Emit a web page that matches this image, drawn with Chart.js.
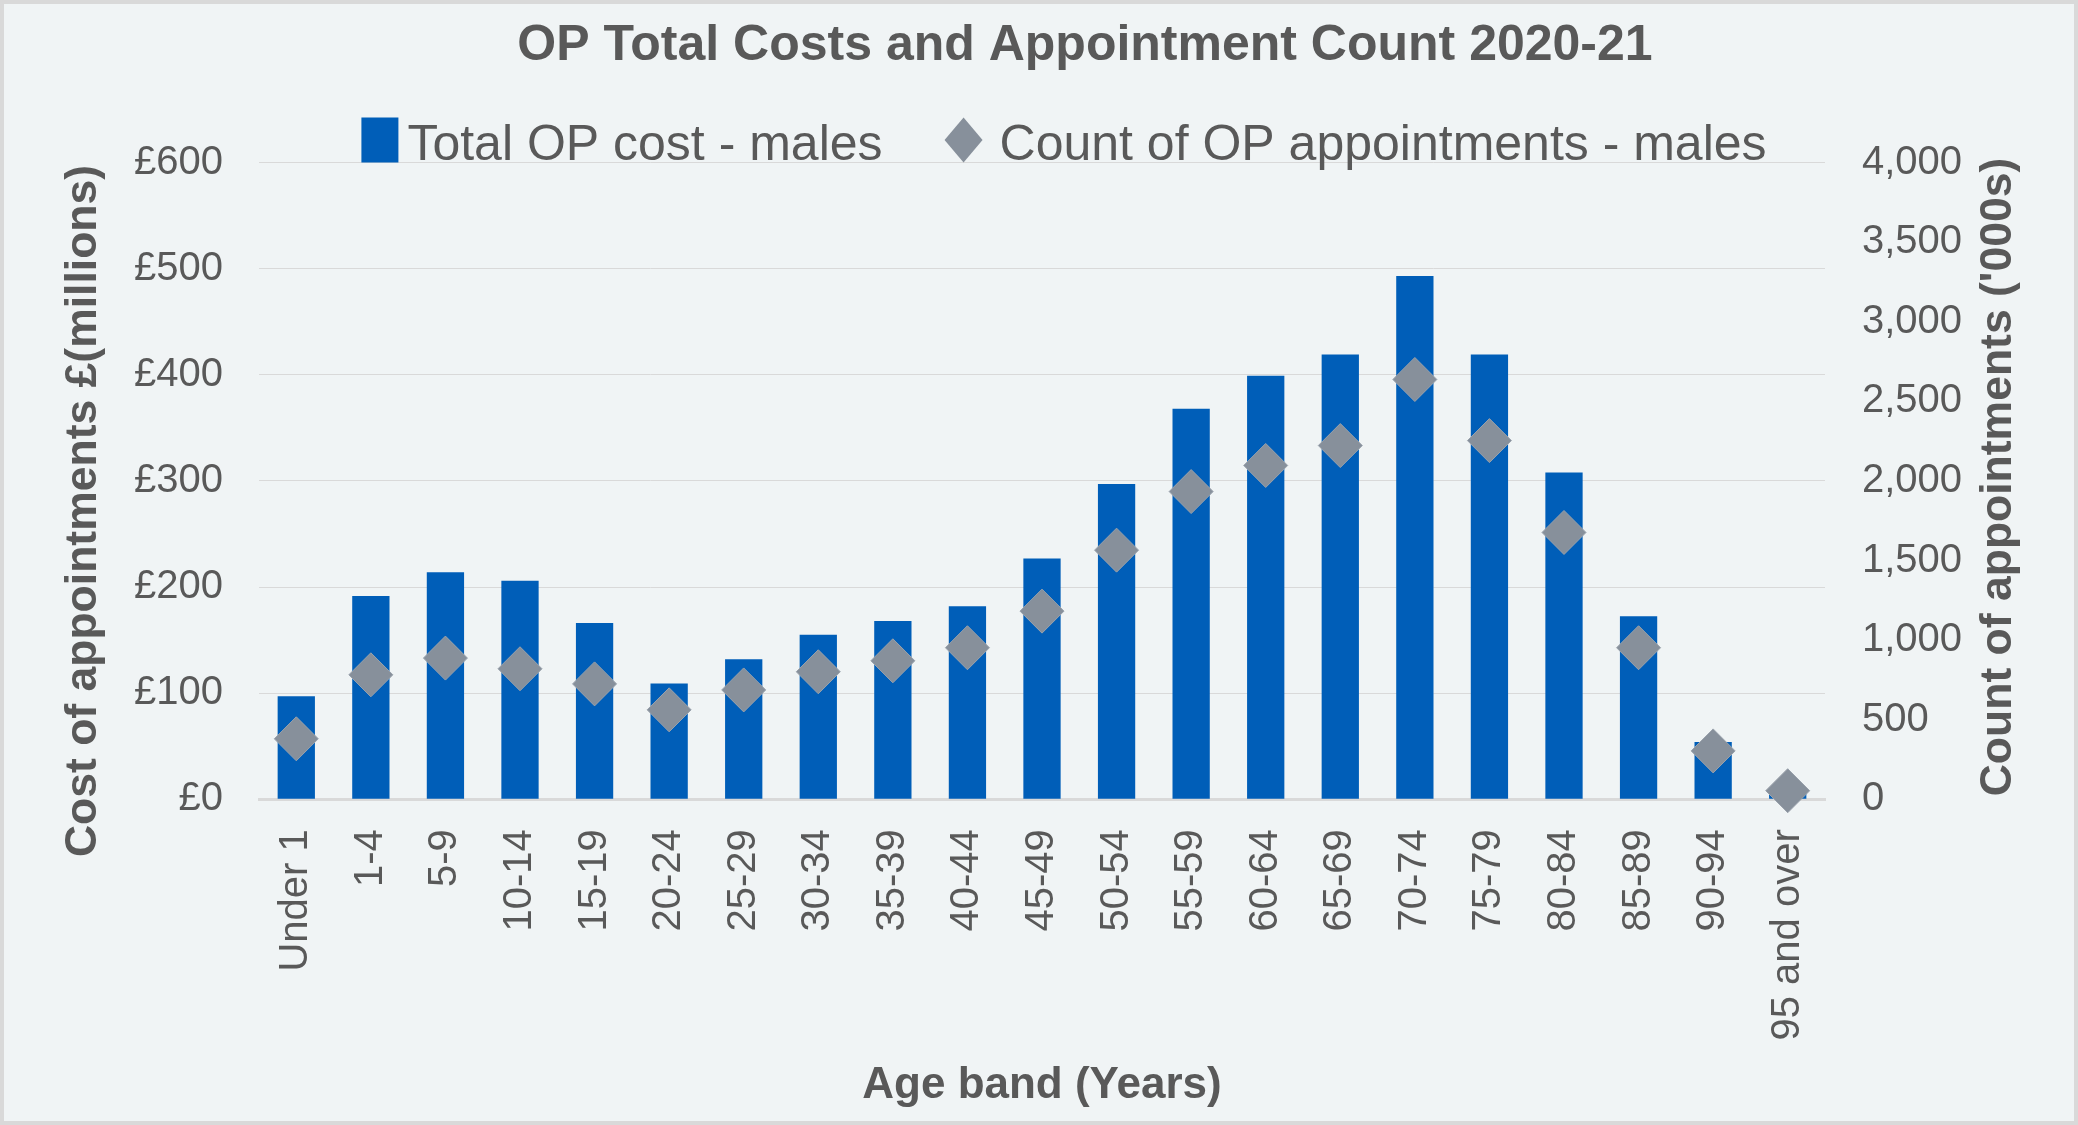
<!DOCTYPE html>
<html>
<head>
<meta charset="utf-8">
<title>OP Total Costs and Appointment Count 2020-21</title>
<script src="https://cdn.jsdelivr.net/npm/chart.js@4.4.1/dist/chart.umd.min.js"></script>
<style>
  html, body { margin: 0; padding: 0; background: #F0F4F5; overflow: hidden; }
  canvas { display: block; }
</style>
</head>
<body>
<canvas id="grafico" width="2078" height="1125"></canvas>
<script>
// DADOS
const faixasEtarias = ['Under 1', '1-4', '5-9', '10-14', '15-19', '20-24', '25-29', '30-34', '35-39', '40-44',
  '45-49', '50-54', '55-59', '60-64', '65-69', '70-74', '75-79', '80-84', '85-89', '90-94', '95 and over'];

// custo total (£ milhões)
const custos = [97, 191.5, 214, 206, 166, 109, 132, 155, 168, 182,
  227, 297, 368, 399, 419, 493, 419, 308, 172.5, 54, 6];

// número de consultas (milhares)
const consultas = [380, 782, 887, 820, 725, 562, 687, 801, 870, 952,
  1182, 1565, 1933, 2097, 2222, 2637, 2253, 1676, 952, 304, 54];

// marcas dos eixos
const ticksCusto = [0, 100, 200, 300, 400, 500, 600];
const ticksConsultas = [0, 500, 1000, 1500, 2000, 2500, 3000, 3500, 4000];

// textos
const tituloGrafico = 'OP Total Costs and Appointment Count 2020-21';
const rotuloCusto = 'Total OP cost - males';
const rotuloConsultas = 'Count of OP appointments - males';
const tituloEixoX = 'Age band (Years)';
const tituloEixoCusto = 'Cost of appointments £(millions)';
const tituloEixoConsultas = "Count of appointments ('000s)";

// estilo
const corFundo = '#F0F4F5';
const corMoldura = '#D9D9D9';
const corTexto = '#595959';
const corBarra = '#005EB8';
const corLosango = '#87909B';
const fonte = "'Liberation Sans', Arial, sans-serif";

Chart.defaults.font.family = fonte;
Chart.defaults.color = corTexto;

// desenha fundo, moldura, título, legenda e títulos dos eixos verticais
const decoracao = {
  id: 'decoracao',
  beforeDraw(chart) {
    const ctx = chart.ctx;
    ctx.save();
    ctx.fillStyle = corFundo;
    ctx.fillRect(0, 0, chart.width, chart.height);
    ctx.restore();
  },
  afterDraw(chart) {
    const ctx = chart.ctx;
    ctx.save();

    // moldura
    ctx.strokeStyle = corMoldura;
    ctx.lineWidth = 4;
    ctx.strokeRect(2, 2, chart.width - 4, chart.height - 4);

    // título
    ctx.fillStyle = corTexto;
    ctx.font = 'bold 50px ' + fonte;
    ctx.textAlign = 'center';
    ctx.textBaseline = 'alphabetic';
    ctx.fillText(tituloGrafico, 1085, 60);

    // legenda
    ctx.font = '50px ' + fonte;
    const larg1 = ctx.measureText(chart.data.datasets[0].label).width;
    const larg2 = ctx.measureText(chart.data.datasets[1].label).width;
    const total = 37 + 9 + larg1 + 62 + 38 + 17 + larg2;
    let x = 1064 - total / 2;
    const yMeio = 140;
    const base = 160;

    ctx.fillStyle = chart.data.datasets[0].backgroundColor;
    ctx.fillRect(x, yMeio - 22.5, 37, 45);
    x += 37 + 9;
    ctx.fillStyle = corTexto;
    ctx.textAlign = 'left';
    ctx.fillText(chart.data.datasets[0].label, x, base);
    x += larg1 + 62;

    ctx.fillStyle = chart.data.datasets[1].pointBackgroundColor;
    ctx.beginPath();
    ctx.moveTo(x, yMeio);
    ctx.lineTo(x + 19, yMeio - 22.5);
    ctx.lineTo(x + 38, yMeio);
    ctx.lineTo(x + 19, yMeio + 22.5);
    ctx.closePath();
    ctx.fill();
    x += 38 + 17;
    ctx.fillStyle = corTexto;
    ctx.fillText(chart.data.datasets[1].label, x, base);

    // títulos dos eixos verticais (ambos lidos de baixo para cima)
    ctx.font = 'bold 44.5px ' + fonte;
    ctx.textAlign = 'center';
    ctx.textBaseline = 'middle';
    ctx.translate(84, 511);
    ctx.rotate(-Math.PI / 2);
    ctx.fillText(tituloEixoCusto, 0, 0);
    ctx.setTransform(1, 0, 0, 1, 0, 0);
    ctx.translate(1999, 477);
    ctx.rotate(-Math.PI / 2);
    ctx.fillText(tituloEixoConsultas, 0, 0);

    ctx.restore();
  }
};

function criarGrafico(elementId) {
  const ctx = document.getElementById(elementId);

  new Chart(ctx, {
    data: {
      labels: faixasEtarias,
      datasets: [
        {
          type: 'bar',
          label: rotuloCusto,
          data: custos,
          yAxisID: 'y',
          backgroundColor: corBarra,
          borderWidth: 0,
          barPercentage: 0.5,
          categoryPercentage: 1,
          order: 2
        },
        {
          type: 'line',
          label: rotuloConsultas,
          data: consultas,
          yAxisID: 'y1',
          showLine: false,
          pointStyle: 'rectRot',
          pointRadius: 22,
          pointHoverRadius: 22,
          pointBackgroundColor: corLosango,
          pointBorderColor: '#9AA2AC',
          pointBorderWidth: 1,
          clip: false,
          order: 1
        }
      ]
    },
    options: {
      responsive: false,
      animation: false,
      events: [],
      layout: {
        padding: { top: 162.5, left: 0, right: 0, bottom: 0 }
      },
      plugins: {
        legend: { display: false },
        title: { display: false },
        tooltip: { enabled: false }
      },
      scales: {
        x: {
          grid: { display: false, drawTicks: false },
          border: { display: true, color: corMoldura, width: 3 },
          ticks: {
            minRotation: 90,
            maxRotation: 90,
            autoSkip: false,
            padding: 30,
            font: { size: 40 },
            color: corTexto
          },
          title: {
            display: true,
            text: tituloEixoX,
            font: { size: 44, weight: 'bold' },
            color: corTexto,
            padding: { top: 0, bottom: 13 }
          },
          afterFit: scale => { scale.height = 1125 - 799.3; }
        },
        y: {
          position: 'left',
          min: 0,
          max: 600,
          afterBuildTicks: scale => { scale.ticks = ticksCusto.map(v => ({ value: v })); },
          grid: { color: corMoldura, lineWidth: 1, drawTicks: false },
          border: { display: false },
          ticks: {
            padding: 36,
            font: { size: 40 },
            color: corTexto,
            callback: v => '£' + v
          },
          afterFit: scale => { scale.width = 259; }
        },
        y1: {
          position: 'right',
          min: 0,
          max: 4000,
          afterBuildTicks: scale => { scale.ticks = ticksConsultas.map(v => ({ value: v })); },
          grid: { display: false, drawTicks: false },
          border: { display: false },
          ticks: {
            padding: 37,
            font: { size: 40 },
            color: corTexto,
            callback: v => v.toLocaleString('en-GB')
          },
          afterFit: scale => { scale.width = 2078 - 1825; }
        }
      }
    },
    plugins: [decoracao]
  });
}

window.onload = () => criarGrafico('grafico');
</script>
</body>
</html>
